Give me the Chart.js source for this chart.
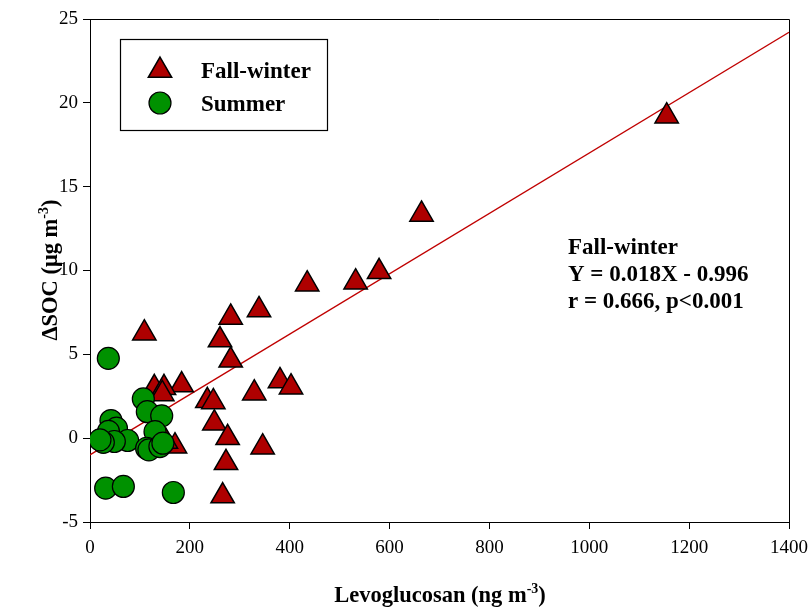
<!DOCTYPE html>
<html>
<head>
<meta charset="utf-8">
<script src="https://cdn.jsdelivr.net/npm/chart.js@4.4.1/dist/chart.umd.min.js"></script>
<style>
  html, body { margin: 0; padding: 0; background: #fff; }
  #wrap { width: 809px; height: 607px; position: relative; }
</style>
</head>
<body>
<div id="wrap"><canvas id="c" width="809" height="607"></canvas></div>
<script>
// Levoglucosan (ng m-3) vs. ΔSOC (µg m-3)
const fallLevo = [1155, 664, 579, 532, 435, 338.5, 281.8, 108.8, 260.4, 281.8, 380.5, 402.6, 183.6, 128.8, 148.2, 144.8, 329, 235, 247, 249, 275.7, 345.8, 170.2, 152, 272.4, 265.7];
const fallSOC  = [19.2, 13.34, 9.92, 9.3, 9.18, 7.65, 7.2, 6.26, 5.85, 4.64, 3.41, 3.04, 3.17, 3.0, 3.0, 2.64, 2.68, 2.23, 2.16, 0.89, 0.02, -0.54, -0.48, -0.2, -1.47, -3.45];

const summerLevo = [36.7, 106.8, 114.8, 143.6, 42, 53, 37, 130.2, 75.4, 48.7, 26.7, 20, 113.4, 118, 140, 146, 31.4, 66.8, 166.9];
const summerSOC  = [4.76, 2.34, 1.58, 1.33, 1.05, 0.6, 0.4, 0.39, -0.14, -0.2, -0.25, -0.1, -0.6, -0.7, -0.5, -0.3, -2.98, -2.88, -3.24];

// Fall-winter linear fit: Y = 0.018X - 0.996
const fitSlope = 0.018;
const fitIntercept = -0.996;
const fitRange = [0, 1400];

const xTicks = [0, 200, 400, 600, 800, 1000, 1200, 1400];
const yTicks = [-5, 0, 5, 10, 15, 20, 25];

const RED = '#AE0000';
const GREEN = '#009100';
const SERIF = '"Liberation Serif", "Times New Roman", serif';

const toPoints = (xs, ys) => xs.map((x, i) => ({ x: x, y: ys[i] }));

// Text with a raised exponent: parts = [[text, isSup], ...]
function drawRich(ctx, parts, x, y, size, align) {
  const fontFor = sup => 'bold ' + (sup ? Math.round(size * 0.62) : size) + 'px ' + SERIF;
  let total = 0;
  for (const [t, sup] of parts) { ctx.font = fontFor(sup); total += ctx.measureText(t).width; }
  let cx = align === 'center' ? x - total / 2 : x;
  ctx.textAlign = 'left';
  ctx.textBaseline = 'alphabetic';
  for (const [t, sup] of parts) {
    ctx.font = fontFor(sup);
    ctx.fillText(t, cx, sup ? y - size * 0.42 : y);
    cx += ctx.measureText(t).width;
  }
}

function triangle(ctx, x, y, r) {
  ctx.beginPath();
  for (let k = 0; k < 3; k++) {
    const a = k * 2 * Math.PI / 3;
    const px = x + Math.sin(a) * r, py = y - Math.cos(a) * r;
    if (k === 0) ctx.moveTo(px, py); else ctx.lineTo(px, py);
  }
  ctx.closePath();
}

const decorations = {
  id: 'decorations',
  afterDraw(chart) {
    const ctx = chart.ctx;
    const a = chart.chartArea;
    ctx.save();
    // frame on top and right
    ctx.strokeStyle = '#000';
    ctx.lineWidth = 1;
    ctx.beginPath();
    ctx.moveTo(a.left, a.top + 0.5);
    ctx.lineTo(a.right + 0.5, a.top + 0.5);
    ctx.lineTo(a.right + 0.5, a.bottom);
    ctx.stroke();

    // legend box
    ctx.fillStyle = '#fff';
    ctx.fillRect(120, 39, 207, 91);
    ctx.strokeStyle = '#000';
    ctx.lineWidth = 1.2;
    ctx.strokeRect(120.5, 39.5, 207, 91);

    ctx.fillStyle = RED;
    ctx.strokeStyle = '#000';
    ctx.lineWidth = 1.5;
    triangle(ctx, 160, 70.5, 13.5);
    ctx.fill(); ctx.stroke();

    ctx.fillStyle = GREEN;
    ctx.lineWidth = 1.2;
    ctx.beginPath();
    ctx.arc(160, 103, 11, 0, Math.PI * 2);
    ctx.fill(); ctx.stroke();

    ctx.fillStyle = '#000';
    ctx.font = 'bold 23px ' + SERIF;
    ctx.textAlign = 'left';
    ctx.textBaseline = 'alphabetic';
    ctx.fillText('Fall-winter', 201, 78);
    ctx.fillText('Summer', 201, 111);

    // fit statistics
    ctx.fillText('Fall-winter', 568, 254);
    ctx.fillText('Y = 0.018X - 0.996', 568, 281);
    ctx.fillText('r = 0.666, p<0.001', 568, 308);

    // axis titles
    drawRich(ctx, [['Levoglucosan (ng m', false], ['-3', true], [')', false]], 440, 602, 22.5, 'center');
    ctx.save();
    ctx.translate(57, 270);
    ctx.rotate(-Math.PI / 2);
    drawRich(ctx, [['\u0394SOC (\u03bcg m', false], ['-3', true], [')', false]], 0, 0, 22.5, 'center');
    ctx.restore();
    ctx.restore();
  }
};

new Chart(document.getElementById('c'), {
  type: 'scatter',
  data: {
    datasets: [
      {
        label: 'Summer',
        data: toPoints(summerLevo, summerSOC),
        pointStyle: 'circle',
        pointRadius: 11,
        pointHoverRadius: 11,
        backgroundColor: GREEN,
        borderColor: '#000',
        borderWidth: 1.2,
        order: 0
      },
      {
        label: 'Fall-winter',
        data: toPoints(fallLevo, fallSOC),
        pointStyle: 'triangle',
        pointRadius: 13.5,
        pointHoverRadius: 13.5,
        backgroundColor: RED,
        borderColor: '#000',
        borderWidth: 1.5,
        order: 1
      },
      {
        label: 'Fit',
        type: 'line',
        data: fitRange.map(x => ({ x: x, y: fitSlope * x + fitIntercept })),
        borderColor: '#C00000',
        borderWidth: 1.3,
        pointRadius: 0,
        fill: false,
        order: 2
      }
    ]
  },
  options: {
    responsive: false,
    animation: false,
    events: [],
    layout: { padding: { top: 19, right: 20, left: 0, bottom: 0 } },
    plugins: { legend: { display: false }, tooltip: { enabled: false } },
    scales: {
      x: {
        type: 'linear',
        min: 0, max: 1400,
        afterBuildTicks: s => { s.ticks = xTicks.map(v => ({ value: v })); },
        afterFit: s => { s.height = 85; s.paddingLeft = 0; s.paddingRight = 0; },
        grid: { drawOnChartArea: false, drawTicks: true, tickLength: 7, color: '#000', lineWidth: 1 },
        border: { display: true, color: '#000', width: 1 },
        ticks: { color: '#000', font: { family: SERIF, size: 19 }, padding: 8, maxRotation: 0,
                 callback: v => String(v) }
      },
      y: {
        type: 'linear',
        min: -5, max: 25,
        afterBuildTicks: s => { s.ticks = yTicks.map(v => ({ value: v })); },
        afterFit: s => { s.width = 90; s.paddingTop = 0; s.paddingBottom = 0; },
        grid: { drawOnChartArea: false, drawTicks: true, tickLength: 7, color: '#000', lineWidth: 1 },
        border: { display: true, color: '#000', width: 1 },
        ticks: { color: '#000', font: { family: SERIF, size: 19 }, padding: 5,
                 callback: v => String(v) }
      }
    }
  },
  plugins: [decorations]
});
</script>
</body>
</html>
